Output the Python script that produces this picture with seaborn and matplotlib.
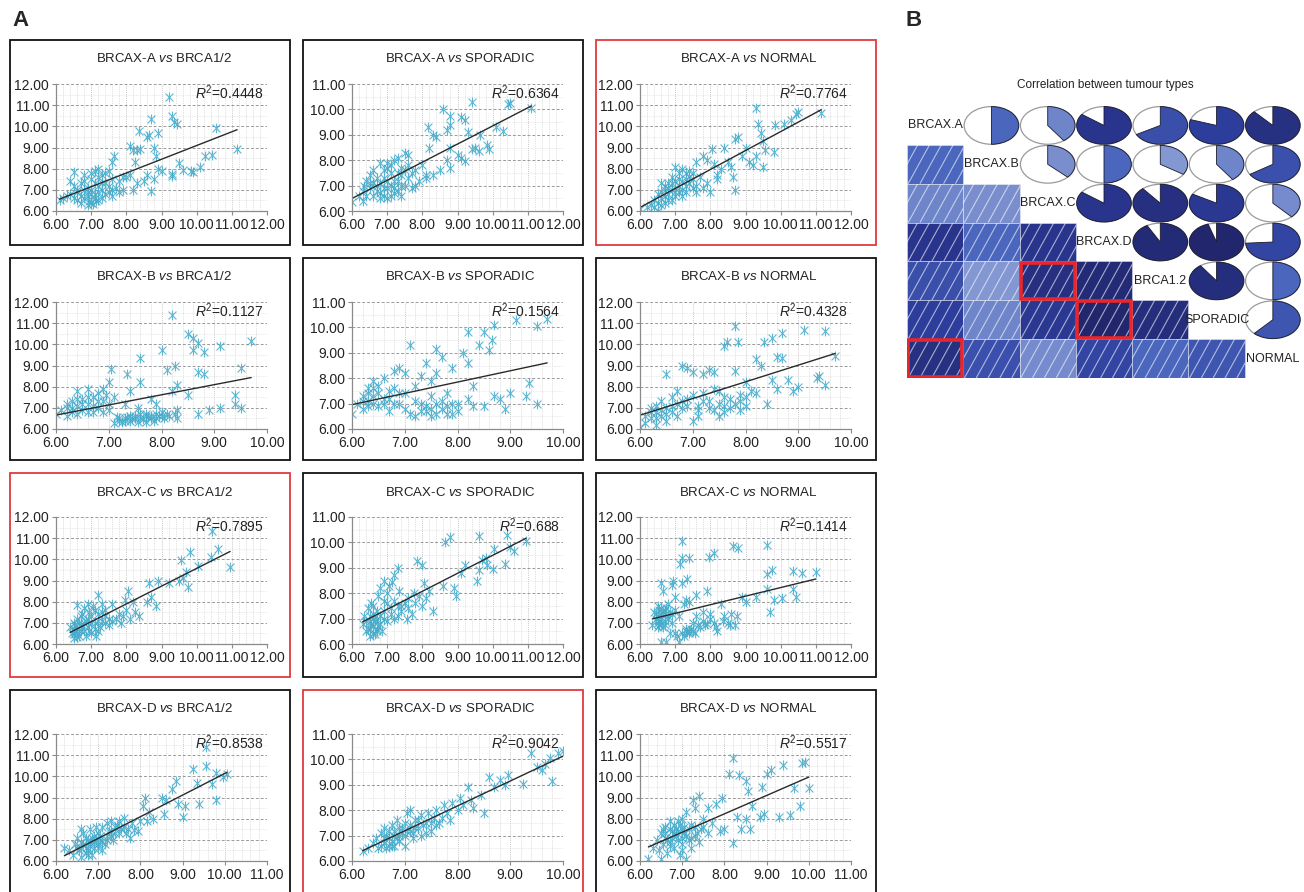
import numpy as np
import pandas as pd
import matplotlib
matplotlib.use("Agg")
import matplotlib.pyplot as plt
import seaborn as sns
from matplotlib.patches import Rectangle, Wedge, Ellipse
from matplotlib.path import Path
from matplotlib.colors import LinearSegmentedColormap
from matplotlib.ticker import MultipleLocator, FormatStrFormatter

# ---------------- data ----------------
row_names = ["BRCAX-A", "BRCAX-B", "BRCAX-C", "BRCAX-D"]
col_names = ["BRCA1/2", "SPORADIC", "NORMAL"]
r2_labels = [["0.4448", "0.6364", "0.7764"],
             ["0.1127", "0.1564", "0.4328"],
             ["0.7895", "0.688", "0.1414"],
             ["0.8538", "0.9042", "0.5517"]]
x_max = [[12, 12, 12], [10, 10, 10], [12, 12, 12], [11, 10, 11]]
y_max = [12, 11, 12]
red_panels = [(0, 2), (2, 0), (3, 1)]

pts_a_brca = [(6.1,6.5),(6.2,6.6),(6.4,6.8),(6.5,7.2),(6.6,7.0),(6.7,7.3),(6.8,7.4),(6.9,7.1),(7.0,7.5),
    (7.1,7.9),(7.2,8.0),(7.3,7.7),(7.4,7.8),(7.0,7.0),(6.7,6.7),(6.6,6.5),(6.5,6.6),(7.2,7.2),(7.4,7.3),
    (7.6,7.5),(7.8,7.4),(8.0,7.6),(8.1,7.7),(6.9,6.9),(7.1,7.3),(7.3,7.0),(6.95,6.45),(7.15,6.45),(7.7,7.1),
    (7.5,6.9),(7.2,6.5),(7.0,6.4),(6.9,6.3),(6.8,6.6),(7.1,6.8),(7.3,6.6),(7.6,6.7),(7.9,7.0),(6.5,7.85),
    (7.65,8.6),(7.6,8.3),(8.25,8.3),(8.1,9.05),(8.2,8.9),(8.3,8.9),(8.4,8.95),(8.8,9.0),(8.85,8.6),(8.35,9.8),
    (8.6,9.5),(8.65,9.6),(8.9,9.7),(8.7,10.35),(9.2,11.4),(9.3,10.5),(9.35,10.2),(9.45,10.1),(10.55,9.9),
    (11.15,8.95),(10.45,8.65),(10.25,8.6),(10.1,8.1),(9.85,7.9),(9.9,7.85),(9.6,7.95),(9.5,8.25),(9.3,7.65),
    (9.3,7.75),(9.0,7.9),(8.9,8.0),(8.7,6.95),(8.8,7.5),(8.5,7.4),(8.2,7.0),(8.3,7.3),(8.6,7.7),
    (6.3,6.7),(6.6,6.9),(6.8,7.0),(6.9,6.7),(7.0,6.8),(7.1,6.6),(7.2,6.9),(7.3,7.3),(7.4,6.8),(7.5,7.2),
    (7.0,7.8),(6.8,7.7),(7.2,7.6),(7.6,7.0),(7.8,6.9),(6.7,6.4),(7.05,6.35),(6.4,7.4),(7.5,7.9),(7.9,7.6)]
pts_a_spor = [(6.0,6.35),(6.2,6.6),(6.3,6.4),(6.35,7.0),(6.4,7.2),(6.5,7.4),(6.6,7.1),(6.7,7.3),(6.7,6.8),
    (6.8,7.9),(6.8,6.5),(6.9,6.6),(6.9,7.6),(7.0,7.7),(7.0,6.9),(7.0,6.5),(7.1,7.8),(7.1,7.0),(7.2,7.2),
    (7.2,6.7),(7.3,8.1),(7.3,7.5),(7.4,7.0),(7.5,8.3),(7.5,7.6),(7.6,8.2),(7.6,7.3),(7.7,7.5),(7.8,7.0),
    (7.9,7.2),(7.7,6.9),(7.4,6.6),(7.2,8.0),(6.6,7.6),(6.5,6.9),(6.4,6.6),(8.0,7.8),(8.1,7.4),(8.15,9.3),
    (8.3,9.0),(8.4,8.9),(8.6,10.0),(8.8,9.75),(9.1,9.7),(9.2,9.6),(9.4,10.3),(8.7,9.2),(8.8,9.4),(9.3,9.1),
    (8.3,7.4),(8.1,7.3),(8.5,7.6),(8.7,8.0),(8.8,7.7),(8.8,8.5),(9.1,8.1),(9.2,7.95),(9.4,8.45),(9.5,8.5),
    (9.6,8.35),(9.85,8.6),(9.9,8.45),(10.1,9.3),(10.3,9.15),(10.45,10.2),(10.5,10.25),(11.1,10.05),
    (8.2,8.5),(9.0,8.2),(9.65,9.0),
    (6.6,6.6),(6.8,7.1),(6.9,7.3),(7.0,7.2),(7.1,6.6),(7.2,6.9),(7.3,6.8),(7.4,7.4),(7.5,7.0),(7.1,7.5),
    (6.7,7.0),(6.9,6.9),(7.3,7.2),(7.6,7.8),(7.8,7.6),(6.5,7.1),(6.3,6.8),(7.0,7.9),(7.4,7.7),(6.8,6.7)]
pts_a_norm = [(6.0,6.1),(6.2,6.2),(6.3,6.3),(6.4,6.5),(6.5,6.0),(6.5,6.8),(6.6,6.6),(6.7,7.0),(6.7,6.4),
    (6.8,7.3),(6.8,6.8),(6.9,7.6),(6.9,7.0),(7.0,7.4),(7.0,6.7),(7.1,7.8),(7.1,7.2),(7.2,7.0),(7.2,8.0),
    (7.3,7.5),(7.3,6.9),(7.4,7.3),(7.5,7.8),(7.5,7.1),(7.6,8.3),(7.6,6.9),(7.7,7.6),(7.8,8.6),(7.8,7.1),
    (7.9,7.3),(8.0,6.9),(8.05,8.95),(8.1,8.2),(8.2,7.7),(8.2,7.5),(8.3,8.0),(8.4,9.0),(8.5,8.3),(8.6,8.1),
    (8.65,7.6),(8.7,7.0),(8.7,9.4),(8.8,9.5),(8.9,8.6),(9.0,9.0),(9.1,8.3),(9.2,8.15),(9.3,8.6),(9.3,10.85),
    (9.35,10.1),(9.45,9.7),(9.5,9.3),(9.5,8.1),(9.55,8.9),(9.8,8.8),(9.85,10.05),(10.1,10.1),(10.3,10.3),
    (10.45,10.6),(10.5,10.7),(11.15,10.65),(6.6,7.3),(6.9,6.5),(7.4,7.9),(7.0,8.1),(7.9,8.4),
    (6.6,6.9),(6.7,6.7),(6.8,7.1),(6.9,7.3),(7.0,7.1),(7.1,6.9),(7.2,7.4),(7.3,7.2),(7.4,7.6),(7.1,7.5),
    (6.8,6.5),(6.5,6.4),(6.4,6.2),(7.0,6.9),(7.2,6.7),(7.5,7.5),(6.7,7.2),(6.6,6.3),(7.6,7.2),(7.3,7.8)]
pts_b_brca = [(6.0,6.7),(6.1,6.9),(6.2,7.0),(6.2,6.6),(6.3,7.3),(6.3,6.8),(6.4,7.8),(6.4,7.1),(6.5,7.4),
    (6.5,6.9),(6.6,7.9),(6.6,7.2),(6.7,7.5),(6.7,6.8),(6.8,7.7),(6.8,7.0),(6.9,7.9),(6.9,7.3),(7.0,8.2),
    (7.0,6.9),(7.05,8.85),(6.95,7.6),(7.1,6.3),(7.2,6.5),(7.3,6.4),(7.35,8.6),(7.4,7.8),(7.4,6.6),(7.5,6.5),
    (7.6,9.35),(7.6,8.2),(7.6,6.7),(7.7,6.6),(7.8,6.5),(7.9,6.7),(8.0,6.6),(8.0,9.75),(7.55,7.0),(7.8,7.4),
    (8.1,8.8),(8.2,11.4),(8.25,9.0),(8.3,8.1),(8.2,7.8),(8.3,6.9),(8.5,7.6),(8.5,10.5),(8.6,10.3),(8.6,9.75),
    (8.7,10.05),(8.7,8.7),(8.8,9.65),(8.8,8.6),(8.7,6.7),(8.9,6.9),(9.1,9.9),(9.1,7.0),(9.4,7.6),(9.4,7.2),
    (9.5,7.0),(9.5,8.9),(9.7,10.15),(7.9,7.2),(7.3,7.2),(7.1,7.5),
    (6.3,7.0),(6.4,6.7),(6.5,7.2),(6.6,6.8),(6.7,7.1),(6.8,7.3),(6.9,6.8),(7.0,7.2),(6.6,7.5),(6.4,7.4),
    (7.3,6.5),(7.4,6.4),(7.5,6.6),(7.6,6.5),(7.7,6.7),(7.8,6.6),(7.2,6.4),(7.9,6.5),(8.1,6.7),(6.2,7.2),
    (7.25,6.35),(7.35,6.55),(7.45,6.45),(7.55,6.35),(7.65,6.45),(7.75,6.55),(7.85,6.4),(7.95,6.6),
    (8.05,6.5),(8.15,6.6),(8.25,6.7),(7.15,6.55),(7.7,6.35),(8.0,6.8),(8.3,6.5)]
pts_b_spor = [(6.0,6.6),(6.1,7.0),(6.2,7.3),(6.2,6.8),(6.3,7.6),(6.3,7.1),(6.4,7.9),(6.4,7.3),(6.5,7.7),
    (6.5,6.9),(6.6,8.0),(6.6,7.2),(6.7,7.5),(6.7,6.7),(6.8,8.3),(6.8,7.0),(6.9,8.4),(6.9,7.4),(7.0,8.2),
    (7.0,6.8),(7.1,9.3),(7.1,6.6),(7.2,7.7),(7.2,6.5),(7.3,8.1),(7.3,7.0),(7.4,8.6),(7.4,6.7),(7.5,7.3),
    (7.5,6.5),(7.6,9.15),(7.6,8.2),(7.6,6.6),(7.7,8.85),(7.7,7.1),(7.8,7.4),(7.8,6.9),(7.9,8.4),(7.9,6.6),
    (8.0,7.0),(8.1,9.0),(8.2,9.8),(8.2,8.6),(8.3,7.7),(8.3,6.9),(8.4,9.3),(8.5,9.8),(8.5,6.9),(8.6,9.1),
    (8.65,9.5),(8.7,10.1),(8.7,7.3),(8.8,7.2),(8.9,6.8),(9.0,7.4),(9.1,10.3),(9.3,7.3),(9.35,7.8),
    (9.5,10.05),(9.5,7.0),(9.7,10.35),(8.2,7.2),(7.5,7.9),
    (6.2,7.1),(6.3,7.4),(6.4,7.0),(6.5,7.4),(6.6,7.0),(6.7,7.2),(6.8,7.6),(6.9,7.0),(7.0,7.4),(6.4,7.6),
    (7.3,6.7),(7.4,6.9),(7.5,6.8),(7.6,7.0),(7.7,6.8),(7.8,6.6),(7.2,7.1),(7.9,7.0),(8.0,6.7),(6.3,6.9)]
pts_b_norm = [(6.0,6.1),(6.1,6.3),(6.2,6.5),(6.2,7.0),(6.3,6.8),(6.3,6.2),(6.4,7.3),(6.4,6.6),(6.5,7.0),
    (6.5,8.6),(6.5,6.4),(6.6,7.5),(6.6,6.8),(6.7,7.2),(6.7,7.8),(6.8,9.0),(6.8,7.0),(6.9,8.9),(6.9,7.4),
    (7.0,8.7),(7.0,7.6),(7.1,7.1),(7.1,6.9),(7.2,8.6),(7.2,7.7),(7.3,8.8),(7.3,7.3),(7.4,8.7),(7.4,6.9),
    (7.5,7.8),(7.5,6.6),(7.6,7.5),(7.6,9.9),(7.65,10.1),(7.7,7.0),(7.8,10.85),(7.8,8.75),(7.85,10.1),
    (7.9,7.6),(7.9,6.9),(8.0,8.2),(8.1,7.8),(8.2,9.3),(8.2,7.7),(8.3,9.0),(8.35,10.1),(8.4,7.2),(8.5,10.3),
    (8.5,8.3),(8.6,7.9),(8.6,9.4),(8.7,9.35),(8.7,10.55),(8.8,8.3),(8.9,7.8),(9.0,8.0),(9.1,10.7),
    (9.35,8.4),(9.4,8.5),(9.5,10.65),(9.5,8.1),(9.7,9.45),(7.0,6.4),(7.4,7.9),(8.0,7.1),
    (6.2,6.8),(6.3,7.1),(6.4,6.9),(6.5,6.7),(6.6,7.1),(6.7,6.6),(6.8,7.3),(6.9,7.1),(6.3,6.5),(6.1,6.6),
    (7.2,7.3),(7.3,7.0),(7.5,7.2),(7.6,7.1),(7.7,7.4),(7.8,7.2),(7.6,6.8),(7.9,7.3),(8.0,7.5),(7.1,6.6)]
pts_c_brca = [(6.4,6.8),(6.45,6.5),(6.5,6.3),(6.5,7.0),(6.55,6.6),(6.6,7.85),(6.6,7.2),(6.65,6.4),(6.7,6.9),
    (6.75,7.4),(6.8,6.6),(6.8,7.7),(6.85,7.1),(6.9,7.9),(6.9,6.8),(7.0,7.3),(7.0,6.5),(7.05,7.8),(7.1,7.0),
    (7.1,6.7),(7.2,8.3),(7.2,7.4),(7.25,6.8),(7.3,7.9),(7.3,7.1),(7.4,7.0),(7.4,7.6),(7.5,7.2),(7.5,6.9),
    (7.6,7.9),(7.6,7.1),(7.8,7.4),(7.85,7.0),(7.9,7.3),(7.95,8.1),(8.0,7.6),(8.05,8.5),(8.1,7.2),(8.2,8.0),
    (8.25,7.5),(8.35,7.3),(8.6,8.0),(8.65,8.9),(8.7,8.2),(8.85,7.8),(8.9,9.0),(9.2,8.9),(9.5,9.0),
    (9.55,9.95),(9.6,9.1),(9.7,9.4),(9.75,8.7),(9.8,10.35),(10.05,9.7),(10.4,10.1),(10.45,11.35),
    (10.6,10.5),(10.95,9.65),(6.95,7.5),(7.15,6.4),(6.6,6.35),
    (6.5,6.7),(6.55,6.9),(6.6,6.5),(6.65,7.0),(6.7,6.6),(6.75,6.8),(6.8,7.0),(6.85,6.4),(6.9,7.2),(6.95,6.6),
    (7.0,7.0),(7.2,7.1),(7.3,7.5),(7.4,7.3),(7.1,7.6),(6.6,6.7),(6.5,6.45),(7.7,7.2),(7.2,6.6),(6.7,7.3)]
pts_c_spor = [(6.3,6.8),(6.35,7.1),(6.4,6.5),(6.45,7.4),(6.5,6.9),(6.5,6.3),(6.55,7.6),(6.6,6.7),(6.6,7.2),
    (6.65,6.4),(6.7,7.0),(6.7,6.6),(6.75,7.9),(6.8,6.8),(6.8,8.2),(6.9,8.5),(6.9,7.3),(7.0,7.6),(7.0,8.0),
    (7.05,8.3),(7.1,7.2),(7.15,8.45),(7.2,8.7),(7.2,7.0),(7.3,9.0),(7.3,7.5),(7.35,8.1),(7.4,7.3),(7.5,7.6),
    (7.55,7.0),(7.6,7.8),(7.7,7.2),(7.75,8.0),(7.8,7.6),(7.85,9.25),(7.9,7.9),(8.0,7.5),(8.0,9.1),(8.05,8.4),
    (8.1,7.8),(8.2,8.1),(8.3,7.3),(8.6,8.3),(8.65,10.0),(8.8,10.2),(8.9,8.2),(8.95,7.9),(9.1,8.8),(9.2,9.1),
    (9.55,8.5),(9.6,10.25),(9.6,8.9),(9.7,9.3),(9.8,9.4),(9.85,9.1),(10.0,8.95),(10.05,9.75),(10.35,9.15),
    (10.4,10.3),(10.5,9.8),(10.6,9.65),(10.95,10.05),(6.6,7.5),(6.9,7.7),
    (6.45,6.6),(6.5,7.1),(6.55,6.8),(6.6,6.4),(6.65,6.9),(6.7,7.3),(6.75,6.7),(6.8,7.1),(6.85,6.5),(6.6,7.0),
    (6.5,6.6),(6.7,6.5),(7.1,7.4),(7.2,7.7),(7.4,7.5),(7.3,7.1),(6.4,6.9),(7.6,7.4),(7.0,6.9),(6.9,7.0)]
pts_c_norm = [(6.35,6.9),(6.4,7.5),(6.45,7.2),(6.5,7.8),(6.5,6.8),(6.55,7.1),(6.6,8.9),(6.6,7.4),(6.6,6.1),
    (6.65,8.5),(6.7,7.6),(6.7,6.9),(6.75,6.1),(6.8,7.3),(6.8,7.9),(6.85,6.5),(6.9,8.8),(6.9,7.0),(6.95,9.0),
    (7.0,8.2),(7.0,7.6),(7.05,6.4),(7.1,7.3),(7.15,9.8),(7.2,10.85),(7.2,10.05),(7.2,8.9),(7.25,7.9),
    (7.3,8.1),(7.3,6.6),(7.35,9.05),(7.4,10.05),(7.4,8.0),(7.4,6.5),(7.5,7.0),(7.5,6.6),(7.6,8.3),(7.6,7.3),
    (7.7,6.8),(7.8,7.5),(7.85,6.9),(7.9,8.5),(7.95,10.1),(8.0,7.4),(8.1,10.3),(8.1,7.0),(8.2,6.6),(8.3,7.9),
    (8.4,7.3),(8.5,7.0),(8.6,7.4),(8.65,10.65),(8.7,6.9),(8.8,10.55),(8.9,8.2),(9.0,8.0),(9.3,8.2),
    (9.6,9.3),(9.6,10.7),(9.6,8.6),(9.7,7.5),(9.75,9.5),(9.8,8.1),(10.05,8.15),(10.35,8.6),(10.35,9.45),
    (10.45,8.2),(10.6,9.35),(11.0,9.4),(7.1,6.1),
    (6.5,7.3),(6.55,7.6),(6.6,7.0),(6.6,7.2),(6.65,7.5),(6.7,7.1),(6.7,7.4),(6.75,7.7),(6.8,7.2),(6.55,6.9),
    (6.5,7.0),(6.6,7.7),(7.0,6.5),(7.3,6.7),(7.4,6.6),(7.2,6.5),(6.9,7.4),(6.45,7.4),(6.85,7.5),(6.65,6.8),
    (7.35,6.55),(7.45,6.7),(7.55,6.5),(7.65,6.9),(7.9,6.95),(8.0,7.2),(8.15,6.8),(8.35,7.1),(8.55,6.9),
    (8.75,7.3),(7.25,6.4),(7.8,7.1)]
pts_d_brca = [(6.2,6.6),(6.3,6.5),(6.4,6.3),(6.45,6.8),(6.5,7.1),(6.55,6.5),(6.6,6.2),(6.6,6.9),(6.65,7.3),
    (6.7,6.6),(6.7,6.4),(6.75,7.0),(6.8,7.5),(6.8,6.7),(6.85,6.3),(6.9,7.2),(6.9,6.9),(6.95,7.6),(7.0,6.6),
    (7.0,7.3),(7.05,7.0),(7.1,7.6),(7.15,6.8),(7.2,7.8),(7.2,7.2),(7.3,7.4),(7.3,7.9),(7.35,7.0),(7.4,7.6),
    (7.5,7.3),(7.5,7.9),(7.6,7.6),(7.6,8.05),(7.7,7.5),(7.75,7.1),(7.8,7.8),(7.85,7.45),(7.95,7.4),(8.0,7.9),
    (8.05,8.6),(8.1,9.0),(8.2,8.3),(8.15,7.9),(8.3,8.0),(8.5,9.0),(8.55,8.2),(8.6,8.9),(8.75,9.4),(8.85,9.8),
    (8.9,8.7),(9.0,8.1),(9.05,8.6),(9.25,10.35),(9.35,9.7),(9.4,8.7),(9.55,10.5),(9.55,11.4),(9.7,9.65),
    (9.8,10.15),(9.8,8.9),(9.95,9.95),(10.05,10.1),(6.6,7.5),(7.1,6.5),
    (6.6,6.6),(6.65,6.8),(6.7,7.1),(6.75,6.5),(6.8,6.9),(6.85,7.1),(6.9,6.6),(6.95,7.0),(7.0,6.8),(7.05,7.2),
    (7.1,6.9),(7.2,7.0),(7.25,7.4),(7.3,7.2),(7.4,7.3),(7.45,7.7),(7.55,7.5),(6.5,6.6),(6.75,6.3),(7.65,7.3)]
pts_d_spor = [(6.2,6.4),(6.3,6.5),(6.4,6.7),(6.45,6.9),(6.5,6.5),(6.55,7.1),(6.6,6.7),(6.65,6.5),(6.7,7.2),
    (6.7,6.9),(6.75,7.4),(6.8,6.6),(6.8,7.0),(6.85,7.6),(6.9,7.3),(6.9,6.8),(6.95,7.1),(7.0,7.5),(7.0,6.6),
    (7.05,7.9),(7.1,7.2),(7.15,6.9),(7.2,7.6),(7.25,7.3),(7.3,7.8),(7.3,7.0),(7.4,7.5),(7.45,7.9),(7.5,7.2),
    (7.55,7.7),(7.6,8.0),(7.65,7.5),(7.7,7.7),(7.75,8.2),(7.8,7.9),(7.85,7.6),(7.9,8.3),(8.0,8.0),(8.05,8.5),
    (8.1,8.2),(8.2,8.9),(8.25,8.4),(8.3,8.1),(8.45,8.6),(8.5,7.9),(8.6,9.3),(8.7,8.9),(8.8,9.2),(8.9,9.0),
    (8.95,9.4),(9.25,9.05),(9.4,10.25),(9.5,9.7),(9.6,9.6),(9.65,9.8),(9.75,10.05),(9.8,9.15),(9.9,10.25),
    (10.0,10.35),(7.1,8.0),(6.6,7.3),
    (6.6,6.9),(6.65,7.0),(6.7,6.6),(6.75,6.8),(6.8,7.2),(6.85,6.9),(6.9,7.0),(6.95,7.3),(7.0,7.0),(7.05,7.2),
    (7.1,7.4),(7.15,7.1),(7.2,7.3),(7.35,7.4),(7.4,7.1),(7.5,7.5),(6.55,6.6),(6.75,6.6),(7.25,7.6),(7.6,7.4)]
pts_d_norm = [(6.2,6.1),(6.3,6.6),(6.4,7.0),(6.45,6.5),(6.5,6.1),(6.5,7.3),(6.55,6.8),(6.6,7.6),(6.6,7.1),
    (6.65,6.4),(6.7,7.9),(6.7,6.9),(6.75,7.4),(6.8,7.7),(6.8,6.6),(6.85,7.2),(6.9,7.9),(6.9,7.0),(6.95,6.3),
    (7.0,7.5),(7.0,6.8),(7.05,7.3),(7.1,8.3),(7.1,6.1),(7.15,7.0),(7.2,7.7),(7.25,8.9),(7.3,8.5),(7.3,7.2),
    (7.4,9.05),(7.4,6.9),(7.5,8.0),(7.5,7.6),(7.6,8.5),(7.6,7.3),(7.7,7.8),(7.8,8.7),(7.9,7.4),(7.95,9.0),
    (8.0,7.5),(8.1,10.1),(8.2,10.85),(8.2,6.85),(8.3,8.1),(8.35,10.05),(8.4,7.5),(8.5,9.8),(8.5,8.0),
    (8.55,9.3),(8.6,7.5),(8.65,8.6),(8.85,8.1),(8.9,9.5),(8.95,8.2),(9.0,10.1),(9.1,10.3),(9.3,8.1),
    (9.4,10.55),(9.55,8.15),(9.65,9.45),(9.8,8.6),(9.85,10.65),(9.9,10.7),(10.0,9.45),(7.0,8.0),
    (6.6,7.3),(6.65,7.0),(6.7,7.5),(6.75,7.1),(6.8,7.3),(6.85,7.5),(6.9,7.4),(6.95,7.7),(7.0,7.1),(7.05,7.6),
    (7.1,7.2),(7.15,7.5),(7.2,7.1),(7.3,7.6),(7.35,7.3),(7.45,7.5),(6.55,7.5),(6.7,6.7),(7.2,6.6),(7.0,6.5)]

panel_points = [[pts_a_brca, pts_a_spor, pts_a_norm],
                [pts_b_brca, pts_b_spor, pts_b_norm],
                [pts_c_brca, pts_c_spor, pts_c_norm],
                [pts_d_brca, pts_d_spor, pts_d_norm]]

tumour_names = ["BRCAX.A", "BRCAX.B", "BRCAX.C", "BRCAX.D", "BRCA1.2", "SPORADIC", "NORMAL"]
corr_matrix = [[1.00, 0.50, 0.40, 0.85, 0.67, 0.80, 0.88],
               [0.50, 1.00, 0.37, 0.50, 0.34, 0.40, 0.66],
               [0.40, 0.37, 1.00, 0.85, 0.89, 0.83, 0.38],
               [0.85, 0.50, 0.85, 1.00, 0.92, 0.95, 0.74],
               [0.67, 0.34, 0.89, 0.92, 1.00, 0.90, 0.50],
               [0.80, 0.40, 0.83, 0.95, 0.90, 1.00, 0.62],
               [0.88, 0.66, 0.38, 0.74, 0.50, 0.62, 1.00]]
red_cells = [(4, 2), (5, 3), (6, 0)]

# ---------------- style ----------------
sns.set_theme(style="white")
plt.rcParams['font.family'] = ['Liberation Sans', 'DejaVu Sans']
plt.rcParams['mathtext.fontset'] = 'custom'
plt.rcParams['mathtext.rm'] = 'Liberation Sans'
plt.rcParams['mathtext.it'] = 'Liberation Sans:italic'
plt.rcParams['mathtext.bf'] = 'Liberation Sans:bold'

W, H = 1304, 892
fig = plt.figure(figsize=(W / 100, H / 100), dpi=100)

def fx(px):
    return px / W

def fy(py):
    return 1 - py / H

teal = "#45abca"
star = Path([(-1, -1), (1, 1), (-1, 1), (1, -1), (0, -1.25), (0, 1.25)],
            [Path.MOVETO, Path.LINETO] * 3)

box_left = [10, 303, 596]
box_top = [40, 258, 473, 690]
box_bottom = [245, 460, 677, 905]
ax_left = [56, 352, 640]
ax_w = 211

for r in range(4):
    for c in range(3):
        bl, bt, bb = box_left[c], box_top[r], box_bottom[r]
        ec = "#e03a3e" if (r, c) in red_panels else "#111111"
        fig.add_artist(Rectangle((fx(bl), fy(bb)), 280 / W, (bb - bt) / H,
                                 transform=fig.transFigure, fill=False,
                                 ec=ec, lw=1.3))
        top = bt + 44
        ax = fig.add_axes([fx(ax_left[c]), fy(top + 127), ax_w / W, 127 / H])
        pts = panel_points[r][c]
        df = pd.DataFrame(pts, columns=["x", "y"])
        sns.regplot(data=df, x="x", y="y", ax=ax, ci=None, color=teal,
                    marker=star,
                    scatter_kws={"s": 50, "linewidths": 0.8, "alpha": 0.85},
                    line_kws={"color": "#2a2a2a", "lw": 1.0})
        ax.set_xlim(6, x_max[r][c])
        ax.set_ylim(6, y_max[c])
        ax.set_xlabel("")
        ax.set_ylabel("")
        ax.xaxis.set_major_locator(MultipleLocator(1))
        ax.yaxis.set_major_locator(MultipleLocator(1))
        ax.xaxis.set_minor_locator(MultipleLocator(0.2))
        ax.yaxis.set_minor_locator(MultipleLocator(0.5))
        ax.xaxis.set_major_formatter(FormatStrFormatter("%.2f"))
        ax.yaxis.set_major_formatter(FormatStrFormatter("%.2f"))
        ax.set_axisbelow(True)
        ax.grid(which="major", axis="y", ls=(0, (3, 2)), color="#9a9a9a", lw=0.7)
        ax.grid(which="major", axis="x", ls=(0, (1, 1.5)), color="#b5b5b5", lw=0.6)
        ax.grid(which="minor", axis="x", ls=(0, (1, 1.5)), color="#c8c8c8", lw=0.5)
        ax.grid(which="minor", axis="y", ls=(0, (1, 1.5)), color="#d5d5d5", lw=0.5)
        for s in ["top", "right"]:
            ax.spines[s].set_visible(False)
        for s in ["left", "bottom"]:
            ax.spines[s].set_color("#8a8a8a")
            ax.spines[s].set_linewidth(0.9)
        ax.tick_params(which="major", bottom=True, left=True, direction="out",
                       length=3, width=0.8, color="#8a8a8a", labelsize=10,
                       labelcolor="#222222", pad=2)
        ax.tick_params(which="minor", length=0)
        ax.text(0.985, 0.93, r"$R^2$=" + r2_labels[r][c], transform=ax.transAxes,
                ha="right", va="center", fontsize=10, color="#222222")
        fig.text(fx(ax_left[c] + ax_w / 2 + 3), fy(bt + 19),
                 row_names[r] + r" $\it{vs}$ " + col_names[c],
                 ha="center", va="center", fontsize=9.5, color="#222222")

fig.text(fx(12), fy(20), "A", fontsize=16, fontweight="bold", ha="left", va="center")
fig.text(fx(905), fy(20), "B", fontsize=16, fontweight="bold", ha="left", va="center")

# ---------------- panel B: correlogram ----------------
cmap = LinearSegmentedColormap.from_list(
    "corr", [(0.0, "#ffffff"), (0.5, "#4a66bd"), (0.8, "#2d3d9c"), (1.0, "#1e1f5e")])

axB = fig.add_axes([fx(907), fy(378), (1301 - 907) / W, (378 - 106) / H])
axB.set_xlim(0, 7)
axB.set_ylim(0, 7)
axB.axis("off")
n = len(tumour_names)
hatch_offsets = np.arange(-0.4, 1.01, 0.21)
for i in range(n):
    for j in range(n):
        v = corr_matrix[i][j]
        if i > j:
            cell = Rectangle((j, 6 - i), 1, 1, fc=cmap(v),
                             ec=(1, 1, 1, 0.4), lw=0.7)
            axB.add_patch(cell)
            for t in hatch_offsets:
                ln, = axB.plot([j + t, j + t + 0.38], [6 - i, 7 - i],
                               color=(1, 1, 1, 0.6), lw=0.8,
                               solid_capstyle="butt")
                ln.set_clip_path(cell)
        elif i < j:
            cx, cy = j + 0.5, 6.5 - i
            axB.add_patch(Ellipse((cx, cy), 0.97, 0.97, fc="white",
                                  ec="#9a9a9a", lw=0.9))
            axB.add_patch(Wedge((cx, cy), 0.485, 90 - 360 * v, 90,
                                fc=cmap(v), ec="#1a1a2a", lw=0.6))
        else:
            axB.text(j + 0.5, 6.5 - i, tumour_names[i], ha="center",
                     va="center", fontsize=9, color="#222222")
for (i, j) in red_cells:
    axB.add_patch(Rectangle((j + 0.02, 6 - i + 0.03), 0.96, 0.94, fill=False,
                            ec="#e8262b", lw=2.6, zorder=5))

fig.text(fx(1105), fy(85), "Correlation between tumour types",
         ha="center", va="center", fontsize=8.5, color="#222222")

fig.savefig("out.png", dpi=100)
